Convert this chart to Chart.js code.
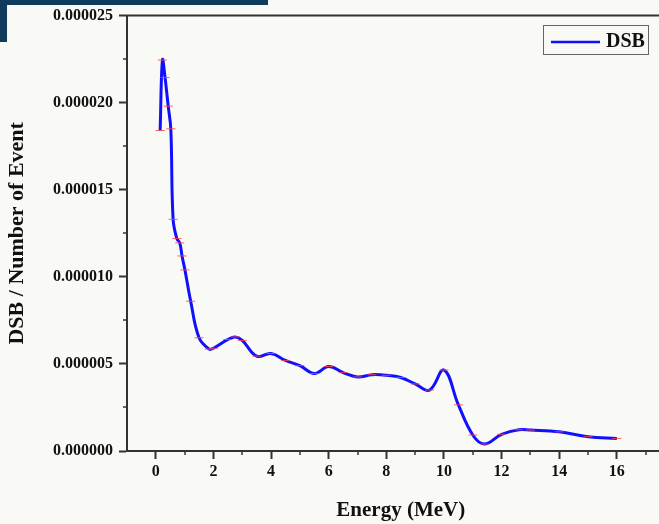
<html><head><meta charset="utf-8">
<script src="https://cdn.jsdelivr.net/npm/chart.js@4.4.1/dist/chart.umd.min.js"></script>
<style>
 body { margin:0; background:#f9f9f6; overflow:hidden; }
 #wrap { position:relative; width:680px; height:524px; }
 .hdr { position:absolute; background:#0f3b5c; }
</style>
</head>
<body>
<div id="wrap">
 <canvas id="myChart" width="680" height="524"></canvas>
 <div class="hdr" style="left:0;top:0;width:268px;height:5px;"></div>
 <div class="hdr" style="left:0;top:0;width:7px;height:42px;"></div>
</div>
<script>
// energy (MeV) and DSB per event
var energy = [0.15, 0.23, 0.32, 0.43, 0.52, 0.6, 0.73, 0.83, 0.91, 1.01, 1.21, 1.5, 1.85, 2.0, 2.5, 2.75, 3.0, 3.5, 4.0, 4.5, 5.0, 5.5, 6.0, 6.5, 7.0, 7.5, 8.0, 8.5, 9.0, 9.5, 10.0, 10.5, 11.0, 11.4, 12.0, 12.6, 13.0, 14.0, 15.0, 16.0];
var dsb = [1.84e-5, 2.245e-5, 2.145e-5, 1.98e-5, 1.85e-5, 1.33e-5, 1.22e-5, 1.195e-5, 1.12e-5, 1.04e-5, 8.6e-6, 6.5e-6, 5.85e-6, 5.9e-6, 6.4e-6, 6.55e-6, 6.35e-6, 5.45e-6, 5.6e-6, 5.2e-6, 4.9e-6, 4.45e-6, 4.85e-6, 4.5e-6, 4.25e-6, 4.38e-6, 4.35e-6, 4.22e-6, 3.85e-6, 3.5e-6, 4.65e-6, 2.65e-6, 9.2e-7, 4.0e-7, 9.6e-7, 1.22e-6, 1.2e-6, 1.1e-6, 8.2e-7, 7.2e-7];
var xTicks = [0, 2, 4, 6, 8, 10, 12, 14, 16];
var yTicks = [0, 0.000005, 0.00001, 0.000015, 0.00002, 0.000025];

var pts = energy.map(function (e, i) { return { x: e, y: dsb[i] }; });
var serif = "'Liberation Serif', 'Times New Roman', serif";

// minor ticks, top frame line and the boxed legend
var extras = {
  id: 'extras',
  afterDraw: function (chart) {
    var c = chart.ctx, a = chart.chartArea, sx = chart.scales.x, sy = chart.scales.y;
    c.save();
    c.strokeStyle = '#333'; c.lineWidth = 2;
    c.beginPath(); c.moveTo(a.left - 1, a.top); c.lineTo(a.right, a.top); c.stroke();
    c.lineWidth = 1.5;
    for (var v = 1; v <= 17; v += 2) {
      var px = Math.round(sx.getPixelForValue(v));
      c.beginPath(); c.moveTo(px, a.bottom); c.lineTo(px, a.bottom + 4); c.stroke();
    }
    for (var k = 0; k < 5; k++) {
      var py = Math.round(sy.getPixelForValue(0.0000025 + k * 0.000005));
      c.beginPath(); c.moveTo(a.left, py); c.lineTo(a.left - 4, py); c.stroke();
    }
    // legend
    var ds = chart.data.datasets[0];
    c.strokeStyle = '#666'; c.lineWidth = 1;
    c.strokeRect(543.5, 25.5, 105, 29);
    c.strokeStyle = ds.borderColor; c.lineWidth = 2.5;
    c.beginPath(); c.moveTo(551, 42); c.lineTo(600, 42); c.stroke();
    c.fillStyle = '#111'; c.font = 'bold 20px ' + serif;
    c.textBaseline = 'middle'; c.textAlign = 'left';
    c.fillText(ds.label, 606, 42);
    c.restore();
  }
};

var ctx = document.getElementById('myChart');
var myChart = new Chart(ctx, {
  type: 'line',
  data: {
    datasets: [{
      label: 'DSB',
      data: pts,
      borderColor: '#1010ff',
      borderWidth: 3,
      pointRadius: 0,
      tension: 0.4,
      fill: false,
      order: 2
    }, {
      label: 'err',
      data: pts,
      showLine: false,
      pointStyle: 'line',
      pointRadius: 4.5,
      pointBorderWidth: 1,
      pointBorderColor: 'rgba(255,70,70,0.85)',
      order: 1
    }]
  },
  plugins: [extras],
  options: {
    responsive: false,
    animation: false,
    events: [],
    layout: { padding: { top: 15, right: 4, left: 0, bottom: 0 } },
    plugins: { legend: { display: false }, tooltip: { enabled: false } },
    scales: {
      x: {
        type: 'linear', min: -1, max: 18,
        afterBuildTicks: function (s) { s.ticks = xTicks.map(function (v) { return { value: v }; }); },
        afterFit: function (s) { s.height = 73; },
        grid: { drawOnChartArea: false, tickLength: 8, tickColor: '#333', tickWidth: 2 },
        border: { color: '#333', width: 2 },
        ticks: { padding: 3, color: '#111', font: { family: serif, size: 16, weight: 'bold' }, maxRotation: 0 },
        title: { display: true, text: 'Energy (MeV)', color: '#111', padding: { top: 0, bottom: 1 },
                 font: { family: serif, size: 21, weight: 'bold' } }
      },
      y: {
        min: 0, max: 0.000025,
        afterBuildTicks: function (s) { s.ticks = yTicks.map(function (v) { return { value: v }; }); },
        afterFit: function (s) { s.width = 127; },
        grid: { drawOnChartArea: false, tickLength: 8, tickColor: '#333', tickWidth: 2 },
        border: { color: '#333', width: 2 },
        ticks: { padding: 6, color: '#111', font: { family: serif, size: 16, weight: 'bold' },
                 callback: function (v) { return v.toFixed(6); } },
        title: { display: true, text: 'DSB / Number of Event', color: '#111', padding: { top: 4, bottom: 0 },
                 font: { family: serif, size: 22, weight: 'bold' } }
      }
    }
  }
});
</script>
</body></html>
